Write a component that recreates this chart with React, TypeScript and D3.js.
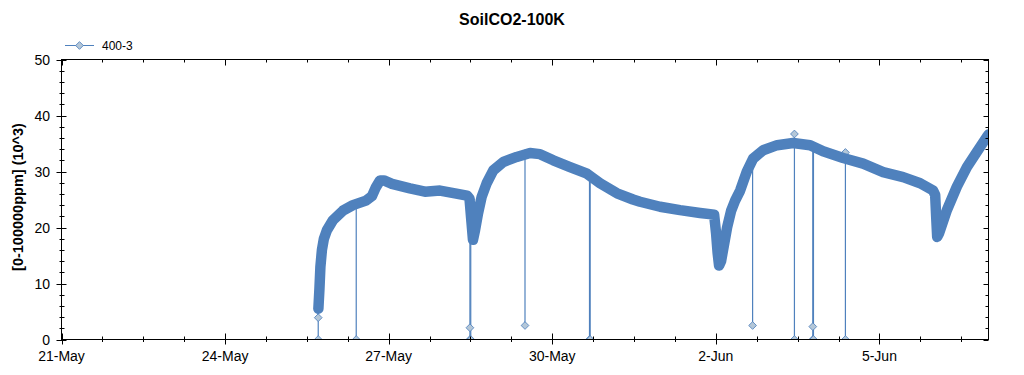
import React from "react";
import * as d3 from "d3";

// ---------- data ----------
const chartTitle = "SoilCO2-100K";
const yAxisTitle = "[0-100000ppm] (10^3)";
const seriesName = "400-3";

// x ticks: day offsets since 21-May
const majorTickDays = [0, 3, 6, 9, 12, 15];
const majorTickLabels = ["21-May", "24-May", "27-May", "30-May", "2-Jun", "5-Jun"];
const yTicks = [0, 10, 20, 30, 40, 50];

// sensor readings (day offset since 21-May 00:00, value in 10^3 ppm)
const readingDays = [
  4.711, 4.73, 4.748, 4.776, 4.812, 4.867, 4.977, 5.161, 5.344, 5.583, 5.693, 5.766, 5.84,
  5.913, 6.06, 6.39, 6.665, 6.941, 7.216, 7.436, 7.482, 7.518, 7.546, 7.583, 7.638, 7.706,
  7.797, 7.918, 8.102, 8.348, 8.592, 8.775, 9.019, 9.326, 9.637, 9.876, 10.188, 10.481,
  10.61, 10.977, 11.344, 11.711, 11.968, 12.004, 12.032, 12.059, 12.096, 12.151, 12.206,
  12.28, 12.353, 12.445, 12.568, 12.683, 12.867, 13.124, 13.417, 13.729, 13.967, 14.334,
  14.701, 15.068, 15.435, 15.747, 15.985, 16.022, 16.04, 16.059, 16.095, 16.237, 16.42,
  16.604, 16.787, 16.97, 17.0,
];
const readingValues = [
  5.5, 9, 13, 16, 18, 19.5, 21.3, 23.0, 24.0, 24.8, 25.6, 27.2, 28.4,
  28.4, 27.8, 27.0, 26.4, 26.6, 26.1, 25.7, 25.2, 21, 17.8, 19.5, 22.5, 25.5,
  27.9, 30.2, 31.7, 32.6, 33.3, 33.1, 32.0, 30.8, 29.6, 27.9, 26.1, 25.0,
  24.6, 23.7, 23.1, 22.6, 22.3, 19, 15.5, 13.2, 14, 17, 20,
  23, 24.8, 26.6, 30.0, 32.3, 33.8, 34.7, 35.1, 34.7, 33.6, 32.4,
  31.4, 29.9, 29.0, 27.9, 26.6, 25.8, 22, 18.3, 19, 23.1, 27.3,
  30.8, 33.5, 36.2, 36.6,
];

// sensor dropouts: time, reading before/after, low readings
const dropoutDays = [4.708, 5.405, 7.49, 7.505, 8.5, 9.683, 9.695, 12.674, 13.441, 13.778, 13.79, 14.376];
const dropoutTops = [5.5, 24.1, 25.2, 25.0, 33.2, 29.4, 29.3, 32.3, 36.7, 34.6, 34.5, 33.4];
const dropoutLows = [[3.9, 0], [0], [2.1, 0], [0], [2.5], [0], [0], [2.5], [0], [2.3, 0], [0], [0]];

// ---------- layout ----------
const W = 1024;
const H = 375;
const L = 61.5;
const R = 988.5;
const T = 59.5;
const B = 339.5;
const BLUE = "#4f81bd";
const MARKER_FILL = "#b4c7d8";
const FONT = "Arial, 'Liberation Sans', sans-serif";

export default function App() {
  const x = d3.scaleLinear().domain([0, 17]).range([L, R]);
  const y = d3.scaleLinear().domain([0, 50]).range([B, T]);

  const pts: [number, number][] = readingDays.map((d, i) => [d, readingValues[i]]);
  const line = d3
    .line<[number, number]>()
    .x((p) => x(p[0]))
    .y((p) => y(p[1]));
  const bandPath = line(pts) || "";

  const diamond = d3.symbol(d3.symbolSquare, 30)() || "";

  const minorX = d3.range(0, 17 + 1e-9, 0.75);
  const minorY = d3.range(0, 50 + 1e-9, 2);

  const marker = (cx: number, cy: number, key: string | number) => (
    <path
      key={key}
      d={diamond}
      transform={`translate(${cx},${cy}) rotate(45)`}
      fill={MARKER_FILL}
      stroke={BLUE}
      strokeWidth={0.8}
    />
  );

  return (
    <svg width={W} height={H} style={{ display: "block", margin: "-8px", background: "#fff" }}>
      <defs>
        <clipPath id="plotClip">
          <rect x={L} y={T - 6} width={R - L} height={B - T + 6} />
        </clipPath>
      </defs>
      <rect x={0} y={0} width={W} height={H} fill="#fff" />

      {/* title */}
      <text x={512} y={25} textAnchor="middle" fontFamily={FONT} fontWeight="bold" fontSize={16}>
        {chartTitle}
      </text>

      {/* legend */}
      <g>
        <line x1={65} x2={94} y1={45.5} y2={45.5} stroke={BLUE} strokeWidth={1} />
        {marker(79.5, 45.5, "legend")}
        <text x={102} y={50} fontFamily={FONT} fontSize={12}>
          {seriesName}
        </text>
      </g>

      {/* y axis title */}
      <text
        transform={`translate(23,197) rotate(-90)`}
        textAnchor="middle"
        fontFamily={FONT}
        fontWeight="bold"
        fontSize={14.5}
      >
        {yAxisTitle}
      </text>

      {/* data */}
      <g clipPath="url(#plotClip)">
        {dropoutDays.map((d, i) => {
          const lows = dropoutLows[i];
          const lowest = Math.min(...lows);
          return (
            <g key={"s" + i}>
              <line
                x1={x(d)}
                x2={x(d)}
                y1={y(dropoutTops[i])}
                y2={y(lowest)}
                stroke={BLUE}
                strokeWidth={1.2}
              />
              {marker(x(d), y(dropoutTops[i]), "top")}
            </g>
          );
        })}
        <path d={bandPath} fill="none" stroke={BLUE} strokeWidth={10.5} strokeLinejoin="round" strokeLinecap="round" />
        {dropoutDays.map((d, i) => (
          <g key={"m" + i}>{dropoutLows[i].map((v, j) => marker(x(d), y(v), j))}</g>
        ))}
      </g>

      {/* frame */}
      <rect x={L} y={T} width={R - L} height={B - T} fill="none" stroke="#000" strokeWidth={1} />

      {/* x ticks bottom & top */}
      {minorX.map((d, i) => {
        const major = Math.abs(d / 3 - Math.round(d / 3)) < 1e-6;
        const xx = Math.round(x(d)) + 0.5;
        return (
          <g key={"xt" + i}>
            <line x1={xx} x2={xx} y1={B - (major ? 6 : 3)} y2={B + (major ? 5 : 2.5)} stroke="#000" />
            <line x1={xx} x2={xx} y1={T} y2={T + (major ? 6 : 3)} stroke="#000" />
          </g>
        );
      })}
      {majorTickDays.map((d, i) => (
        <text key={"xl" + i} x={x(d)} y={361} textAnchor="middle" fontFamily={FONT} fontSize={14}>
          {majorTickLabels[i]}
        </text>
      ))}

      {/* y ticks left & right */}
      {minorY.map((v, i) => {
        const major = v % 10 === 0;
        const yy = Math.round(y(v)) + 0.5;
        return (
          <g key={"yt" + i}>
            <line x1={L - (major ? 5 : 2)} x2={L + (major ? 5 : 3)} y1={yy} y2={yy} stroke="#000" />
            <line x1={R - (major ? 5 : 3)} x2={R} y1={yy} y2={yy} stroke="#000" />
          </g>
        );
      })}
      {yTicks.map((v) => (
        <text key={"yl" + v} x={50} y={y(v) + 5} textAnchor="end" fontFamily={FONT} fontSize={14}>
          {v}
        </text>
      ))}
    </svg>
  );
}
